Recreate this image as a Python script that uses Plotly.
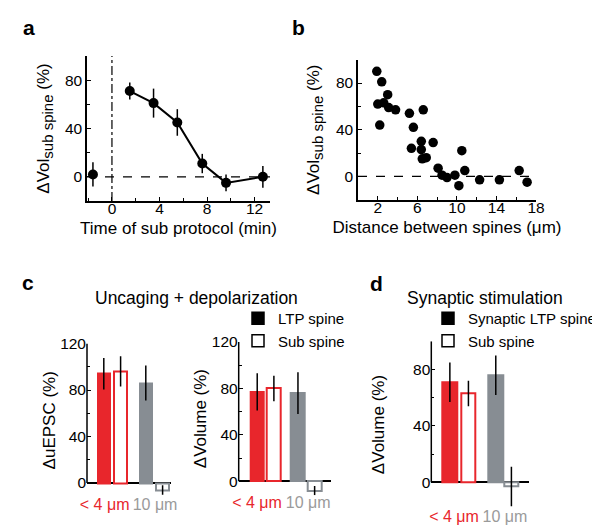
import plotly.graph_objects as go

# ---- data -------------------------------------------------------------
# panel a: time course of sub-spine volume change (baseline point + post-protocol course)
base_time = [-1.6]
base_vol = [2]
base_err = [10]
time_min = [1.5, 3.5, 5.5, 7.6, 9.6, 12.7]
vol_sub = [71, 61, 45, 11, -5, 0]
vol_sub_err = [7, 12, 11, 8, 7, 9]

# panel b: volume change vs distance between spines
dist_um = [1.9, 2.4, 3.0, 2.0, 2.6, 3.1, 3.8, 2.2, 5.2, 6.6, 5.6, 6.4, 7.6, 5.4,
           6.4, 6.5, 6.9, 10.5, 8.1, 8.5, 9.0, 9.8, 10.2, 10.8, 12.3, 14.3, 16.3, 17.1]
dvol_sub = [90, 81, 70, 62, 63, 59, 57, 44, 54, 57, 42, 30, 29, 24,
            23, 15, 16, 22, 7, 1, -1, 1, -8, 5, -3, -3, 5, -5]

# panels c and d: bars = LTP spine <4um, sub spine <4um, LTP spine 10um, sub spine 10um
group_labels = ['&lt; 4 μm', '10 μm']
c_epsc = [94, 96, 86, -6]
c_epsc_err = [13.5, 13, 15, 4]
c_vol = [77, 80, 76, -8]
c_vol_err = [16, 11, 18, 4]
d_vol = [71, 63, 76, -3]
d_vol_err = [14, 9, 14, 14]

# ---- style ------------------------------------------------------------
W, H = 600, 528
FONT = 'Arial, "Liberation Sans", Helvetica, sans-serif'
RED = '#E8262C'
GRAY = '#878D93'
LBL_GRAY = '#9A9A9A'
fills = [RED, 'white', GRAY, 'white']
edges = [RED, RED, GRAY, GRAY]


def xd(x0, x1):
    return [x0 / W, x1 / W]


def yd(top, bottom):
    return [1 - bottom / H, 1 - top / H]


fig = go.Figure()

# panel a
err_style = dict(type='data', color='black', thickness=1.5, width=0)
fig.add_trace(go.Scatter(
    x=base_time, y=base_vol, mode='markers',
    marker=dict(color='black', size=10),
    error_y=dict(array=base_err, **err_style),
    xaxis='x', yaxis='y', showlegend=False, cliponaxis=False))
fig.add_trace(go.Scatter(
    x=time_min, y=vol_sub, mode='lines+markers',
    line=dict(color='black', width=2),
    marker=dict(color='black', size=10),
    error_y=dict(array=vol_sub_err, **err_style),
    xaxis='x', yaxis='y', showlegend=False, cliponaxis=False))

# panel b
fig.add_trace(go.Scatter(
    x=dist_um, y=dvol_sub, mode='markers',
    marker=dict(color='black', size=9.5),
    xaxis='x2', yaxis='y2', showlegend=False, cliponaxis=False))

# bar panels
bar_panels = [
    ('3', c_epsc, c_epsc_err, [1, 2, 3.5, 4.5]),
    ('4', c_vol, c_vol_err, [1, 1.9, 3.2, 4.1]),
    ('5', d_vol, d_vol_err, [0.95, 1.9, 3.3, 4.1]),
]
for ax, vals, errs, pos in bar_panels:
    fig.add_trace(go.Bar(
        x=pos, y=vals, width=0.75,
        marker=dict(color=fills, line=dict(color=edges, width=2)),
        error_y=dict(array=errs, **err_style),
        xaxis='x' + ax, yaxis='y' + ax, showlegend=False))

# legend entries
for name, sym, lg in [('LTP spine', 'square', 'legend'), ('Sub spine', 'square-open', 'legend'),
                      ('Synaptic LTP spine', 'square', 'legend2'), ('Sub spine', 'square-open', 'legend2')]:
    fig.add_trace(go.Scatter(
        x=[None], y=[None], mode='markers', name=name, legend=lg,
        marker=dict(symbol=sym, color='black', size=12, line=dict(color='black', width=1.5)),
        xaxis='x', yaxis='y'))

tickfont = dict(size=15.5, color='black', family=FONT)
titlefont = dict(size=17, color='black', family=FONT)
line_ax = dict(showline=True, linecolor='black', linewidth=1.5, ticks='inside', ticklen=4,
               tickcolor='black', tickwidth=1.2, tickfont=tickfont, showgrid=False,
               zeroline=False, tickangle=0)
sub_title = 'ΔVol<sub><span style="font-size:15px">sub spine</span></sub> (%)'
leg_font = dict(size=15, family=FONT, color='black')

layout = dict(
    width=W, height=H, margin=dict(l=0, r=0, t=0, b=0, autoexpand=False),
    paper_bgcolor='white', plot_bgcolor='rgba(0,0,0,0)',
    font=dict(family=FONT, color='black'),
    bargap=0,
    xaxis=dict(domain=xd(79, 262), range=[-2.1, 13.3], anchor='y', tickvals=[0, 4, 8, 12],
               minor=dict(dtick=2, ticks='inside', ticklen=3, tickcolor='black'),
               ticklabelstandoff=-7,
               title=dict(text='Time of sub protocol (min)', font=titlefont, standoff=6), **line_ax),
    yaxis=dict(domain=yd(48, 193), range=[-20, 100], anchor='x', tickvals=[0, 40, 80],
               minor=dict(dtick=20, ticks='inside', ticklen=3, tickcolor='black'),
               title=dict(text=sub_title, font=titlefont, standoff=11), **line_ax),
    xaxis2=dict(domain=xd(350, 528), range=[0, 18], anchor='y2', tickvals=[2, 6, 10, 14, 18],
                minor=dict(dtick=2, ticks='inside', ticklen=3, tickcolor='black'),
                ticklabelstandoff=-7,
                title=dict(text='Distance between spines (μm)', font=titlefont, standoff=6), **line_ax),
    yaxis2=dict(domain=yd(51.7, 191.7), range=[-20, 100], anchor='x2', tickvals=[0, 40, 80],
                minor=dict(dtick=20, ticks='inside', ticklen=3, tickcolor='black'),
                title=dict(text=sub_title, font=titlefont, standoff=12), **line_ax),
    legend=dict(x=230 / W, y=1 - 294 / H, xanchor='left', yanchor='top', bgcolor='rgba(0,0,0,0)',
                font=leg_font, tracegroupgap=0, itemwidth=30),
    legend2=dict(x=420 / W, y=1 - 294 / H, xanchor='left', yanchor='top', bgcolor='rgba(0,0,0,0)',
                 font=leg_font, tracegroupgap=0, itemwidth=30),
)

# bar panel axes: id, x domain, y domain, y range, y ticks, y title, label positions,
# label standoff, title standoff
bar_geo = [
    ('3', xd(79, 163), yd(335.5, 489), [-12, 120], [0, 40, 80, 120], 'ΔuEPSC (%)', [1.05, 4.05], -4, 0),
    ('4', xd(230.7, 323.3), yd(334, 487.2), [-12, 120], [0, 40, 80, 120], 'ΔVolume (%)', [0.99, 3.75], -4, 0),
    ('5', xd(423.3, 521), yd(333.3, 499.7), [-18, 100], [0, 40, 80], 'ΔVolume (%)', [1.16, 3.77], -3, 24),
]
shapes = []
for ax, xdom, ydom, yr, yt, ytitle, lblpos, lbl_off, t_off in bar_geo:
    layout['xaxis' + ax] = dict(
        domain=xdom, range=[0, 5], anchor='y' + ax, showline=False, showgrid=False, zeroline=False,
        ticks='', tickvals=lblpos, tickangle=0, ticklabelstandoff=lbl_off,
        ticktext=['<span style="color:%s">%s</span>' % (RED, group_labels[0]),
                  '<span style="color:%s">%s</span>' % (LBL_GRAY, group_labels[1])],
        tickfont=dict(size=16, family=FONT))
    layout['yaxis' + ax] = dict(
        domain=ydom, range=yr, anchor='x' + ax, showline=False, showgrid=False,
        zeroline=True, zerolinecolor='black', zerolinewidth=1.5,
        ticks='inside', ticklen=4, tickcolor='black', tickwidth=1.2, tickvals=yt, tickfont=tickfont,
        minor=dict(dtick=20, ticks='inside', ticklen=3, tickcolor='black'),
        title=dict(text=ytitle, font=titlefont, standoff=t_off))
    # y axis line from 0 up to the top of the range
    shapes.append(dict(type='line', xref='x%s domain' % ax, yref='y' + ax, x0=0, x1=0, y0=0, y1=yr[1],
                       line=dict(color='black', width=1.5)))

# reference lines
shapes += [
    dict(type='line', xref='x domain', yref='y', x0=0, x1=1, y0=0, y1=0,
         line=dict(color='black', width=1.2, dash='dash')),
    dict(type='line', xref='x', yref='y domain', x0=0, x1=0, y0=0, y1=1,
         line=dict(color='black', width=1.2, dash='dashdot')),
    dict(type='line', xref='x2 domain', yref='y2', x0=0, x1=1, y0=0, y1=0,
         line=dict(color='black', width=1.2, dash='dash')),
]
layout['shapes'] = shapes


def note(text, x, y, size, bold=False):
    return dict(text='<b>%s</b>' % text if bold else text, x=x / W, y=1 - y / H,
                xref='paper', yref='paper', xanchor='center', yanchor='middle', showarrow=False,
                font=dict(size=size, family=FONT, color='black'))


layout['annotations'] = [
    note('a', 21, 19, 21, True),
    note('b', 290, 19, 21, True),
    note('c', 20, 274, 21, True),
    note('d', 368, 275, 21, True),
    note('Uncaging + depolarization', 188, 290, 17.5),
    note('Synaptic stimulation', 477, 290, 17.5),
]

fig.update_layout(**layout)
fig.write_html('out.html')
